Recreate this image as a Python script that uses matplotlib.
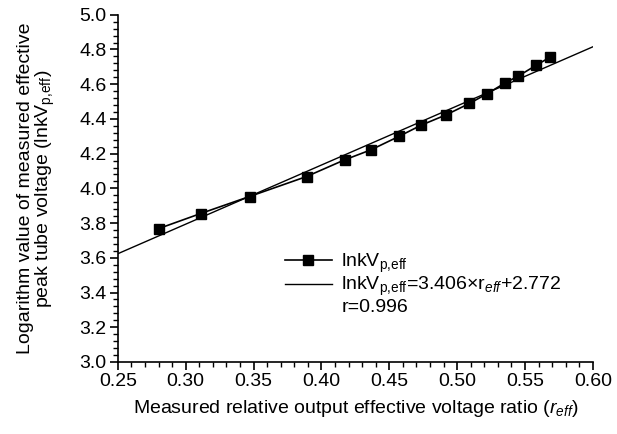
import matplotlib
matplotlib.use("Agg")
import matplotlib.pyplot as plt
from matplotlib.ticker import MultipleLocator, FormatStrFormatter
import numpy as np

plt.rcParams['font.family'] = ['Liberation Sans', 'DejaVu Sans']
plt.rcParams['mathtext.fontset'] = 'custom'
plt.rcParams['mathtext.rm'] = 'Liberation Sans'
plt.rcParams['mathtext.it'] = 'Liberation Sans:italic'
plt.rcParams['mathtext.bf'] = 'Liberation Sans:bold'

r_eff = [0.280, 0.311, 0.347, 0.389, 0.417, 0.4365, 0.457, 0.4735, 0.492,
         0.509, 0.522, 0.535, 0.545, 0.558, 0.568]
lnkV = [3.768, 3.855, 3.953, 4.068, 4.164, 4.222, 4.299, 4.364, 4.424,
        4.489, 4.545, 4.606, 4.647, 4.708, 4.754]
slope = 3.406
intercept = 2.772
fit_x = [0.25, 0.60]

fs = 14
fig = plt.figure(figsize=(6.17, 4.34), dpi=100)
ax = fig.add_axes([0.191, 0.166, 0.770, 0.800])

sub = r'$_{\mathrm{p{,}eff}}$'
ax.plot(r_eff, lnkV, color='black', marker='s', markersize=6.5, linewidth=1.2,
        label='lnkV' + sub)
fx = np.array(fit_x)
ax.plot(fx, slope * fx + intercept, color='black', linewidth=1.0,
        label='lnkV' + sub + r'=3.406$\times$r$_{eff}$+2.772')
ax.plot([], [], linestyle='none', label='r=0.996')

ax.set_xlim(0.25, 0.60)
ax.set_ylim(3.0, 5.0)
ax.xaxis.set_major_locator(MultipleLocator(0.05))
ax.xaxis.set_minor_locator(MultipleLocator(0.01))
ax.yaxis.set_major_locator(MultipleLocator(0.2))
ax.yaxis.set_minor_locator(MultipleLocator(0.04))
ax.xaxis.set_major_formatter(FormatStrFormatter('%.2f'))
ax.yaxis.set_major_formatter(FormatStrFormatter('%.1f'))

for s in ['top', 'right']:
    ax.spines[s].set_visible(False)
for s in ['left', 'bottom']:
    ax.spines[s].set_linewidth(1.2)
ax.tick_params(which='major', direction='out', length=6, width=1.2, labelsize=fs, pad=2)
ax.tick_params(which='minor', direction='out', length=3.5, width=1.0)

ax.set_xlabel(r'Measured relative output effective voltage ratio ($r_{eff}$)', fontsize=fs, labelpad=6)
ax.set_ylabel('Logarithm value of measured effective\n' + 'peak tube voltage (lnkV' + sub + ')',
              fontsize=fs, labelpad=16, linespacing=1.0)

leg = ax.legend(loc='upper left', bbox_to_anchor=(285 / 617, 1 - 252 / 434),
                bbox_transform=fig.transFigure, frameon=False, fontsize=fs,
                handlelength=2.4, handletextpad=0.5, labelspacing=0.0,
                borderaxespad=0, borderpad=0)

fig.savefig('out.png', dpi=100)
